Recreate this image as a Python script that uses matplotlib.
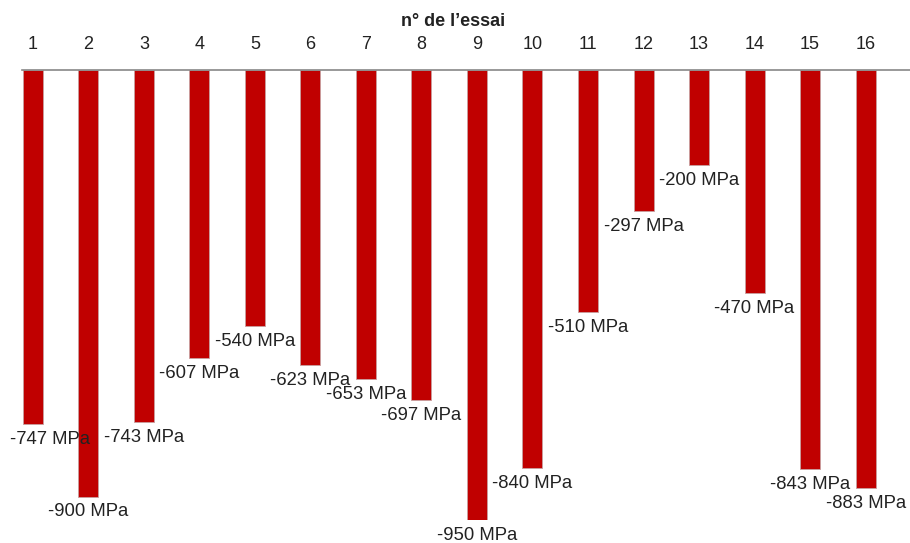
import numpy as np
import matplotlib.pyplot as plt

plt.rcParams['font.family'] = ['Liberation Sans', 'DejaVu Sans']

# contraintes mesurees par essai
essais = list(range(1, 17))
contraintes = [-747, -900, -743, -607, -540, -623, -653, -697,
               -950, -840, -510, -297, -200, -470, -843, -883]
etiquettes = ["%d MPa" % v for v in contraintes]

fig = plt.figure(figsize=(9.1, 5.43), dpi=100)
ax = fig.add_axes([0.024, 0.042, 0.976, 0.829])

ax.bar(essais, contraintes, width=0.36, color='#C00000',
       edgecolor='#c8a0a0', linewidth=0.6, zorder=2)

ax.set_xlim(0.802, 16.80)
ax.set_ylim(-950, 0)

# axe en haut
for s in ['left', 'right', 'bottom']:
    ax.spines[s].set_visible(False)
ax.spines['top'].set_color('#888888')
ax.spines['top'].set_linewidth(1.2)
ax.spines['top'].set_zorder(3)
ax.xaxis.tick_top()
ax.xaxis.set_label_position('top')
ax.set_xticks(essais)
ax.set_xticklabels([str(e) for e in essais], fontsize=13, color='#222222')
ax.tick_params(axis='x', length=0, pad=12)
ax.set_yticks([])
ax.set_xlabel("n° de l’essai", fontsize=13, fontweight='bold',
              color='#222222')
ax.xaxis.set_label_coords(0.486, 1.098)

for i, (x, v, t) in enumerate(zip(essais, contraintes, etiquettes)):
    if i == 0:
        ax.annotate(t, (x - 0.42, v), xytext=(0, -5), textcoords='offset points',
                    ha='left', va='top', fontsize=13.3, color='#222222',
                    annotation_clip=False)
    else:
        ax.annotate(t, (x, v), xytext=(0, -5), textcoords='offset points',
                    ha='center', va='top', fontsize=13.3, color='#222222',
                    annotation_clip=False)

fig.savefig('out.png', dpi=100)
